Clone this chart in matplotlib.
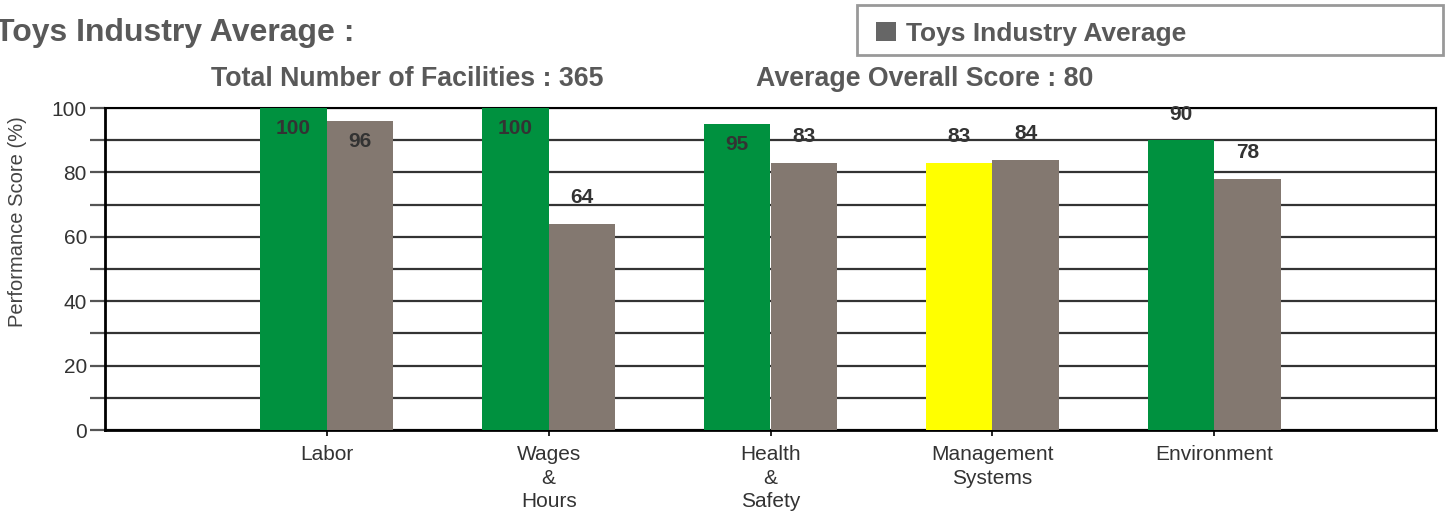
import matplotlib.pyplot as plt
from matplotlib.patches import Patch, Rectangle

categories = ["Labor", "Wages\n&\nHours", "Health\n&\nSafety", "Management\nSystems", "Environment"]
facility_scores = [100, 100, 95, 83, 90]
industry_scores = [96, 64, 83, 84, 78]
facility_colors = ["#00913f", "#00913f", "#00913f", "#ffff00", "#00913f"]
industry_color = "#837870"

plt.rcParams['font.family'] = ['Liberation Sans', 'DejaVu Sans']

fig = plt.figure(figsize=(14.5, 5.14), dpi=100)
ax = fig.add_axes([105/1450, 1-430/514, (1436-105)/1450, (430-108)/514])

x = list(range(1, len(categories) + 1))
w = 0.3
ax.bar([i - w/2 for i in x], facility_scores, width=w, color=facility_colors, zorder=3)
ax.bar([i + w/2 for i in x], industry_scores, width=w, color=industry_color, zorder=3)

def label(xpos, v):
    if v + 9 > 100:
        ax.annotate(str(v), (xpos, v), xytext=(0, -8), textcoords="offset points",
                    ha="center", va="top", fontsize=15, fontweight="bold", color="#333333", zorder=4)
    else:
        ax.annotate(str(v), (xpos, v), xytext=(0, 12), textcoords="offset points",
                    ha="center", va="bottom", fontsize=15, fontweight="bold", color="#333333", zorder=4)

for i, v in zip(x, facility_scores):
    label(i - w/2, v)
for i, v in zip(x, industry_scores):
    label(i + w/2, v)

ax.set_xlim(0, 6)
ax.set_ylim(0, 100)
ax.set_yticks(range(0, 101, 20))
ax.set_yticks(range(10, 100, 20), minor=True)
ax.grid(axis="y", which="both", color="#333333", linewidth=1.6, zorder=1)
ax.tick_params(axis="y", which="both", length=11, width=1.6, color="#555555",
               labelsize=15, labelcolor="#333333", pad=2)
ax.set_xticks(x)
ax.set_xticklabels(categories, fontsize=15, color="#333333", linespacing=1.3)
ax.tick_params(axis="x", length=4, width=1.2, pad=7)
ax.set_ylabel("Performance Score (%)", fontsize=14.5, color="#444444")
ax.yaxis.set_label_coords(-0.0586, 0.646)

for side in ["left", "bottom"]:
    ax.spines[side].set_linewidth(2)
for side in ["top", "right"]:
    ax.spines[side].set_linewidth(1.5)

fig.text(-5/1450, 1-33/514, "Toys Industry Average :", fontsize=23, fontweight="bold",
         color="#595959", va="center", ha="left")
fig.text(211/1450, 1-79/514, "Total Number of Facilities : 365", fontsize=19.3, fontweight="bold",
         color="#595959", va="center", ha="left")
fig.text(756/1450, 1-79/514, "Average Overall Score : 80", fontsize=19.3, fontweight="bold",
         color="#595959", va="center", ha="left")

# legend frame drawn separately so the box matches the reference size
fig.patches.append(Rectangle((857/1450, 1-55/514), 586/1450, 50/514, transform=fig.transFigure,
                             facecolor="white", edgecolor="#999999", linewidth=2, zorder=0))
handles = [Patch(facecolor="#666666", label="Toys Industry Average")]
leg = fig.legend(handles=handles, loc="center left", bbox_to_anchor=(876/1450, 1-34/514),
                 frameon=False, prop={"size": 19, "weight": "bold"}, borderpad=0,
                 handlelength=0.75, handleheight=0.75, handletextpad=0.4, borderaxespad=0)
for t in leg.get_texts():
    t.set_color("#595959")

fig.savefig("out.png", dpi=100)
